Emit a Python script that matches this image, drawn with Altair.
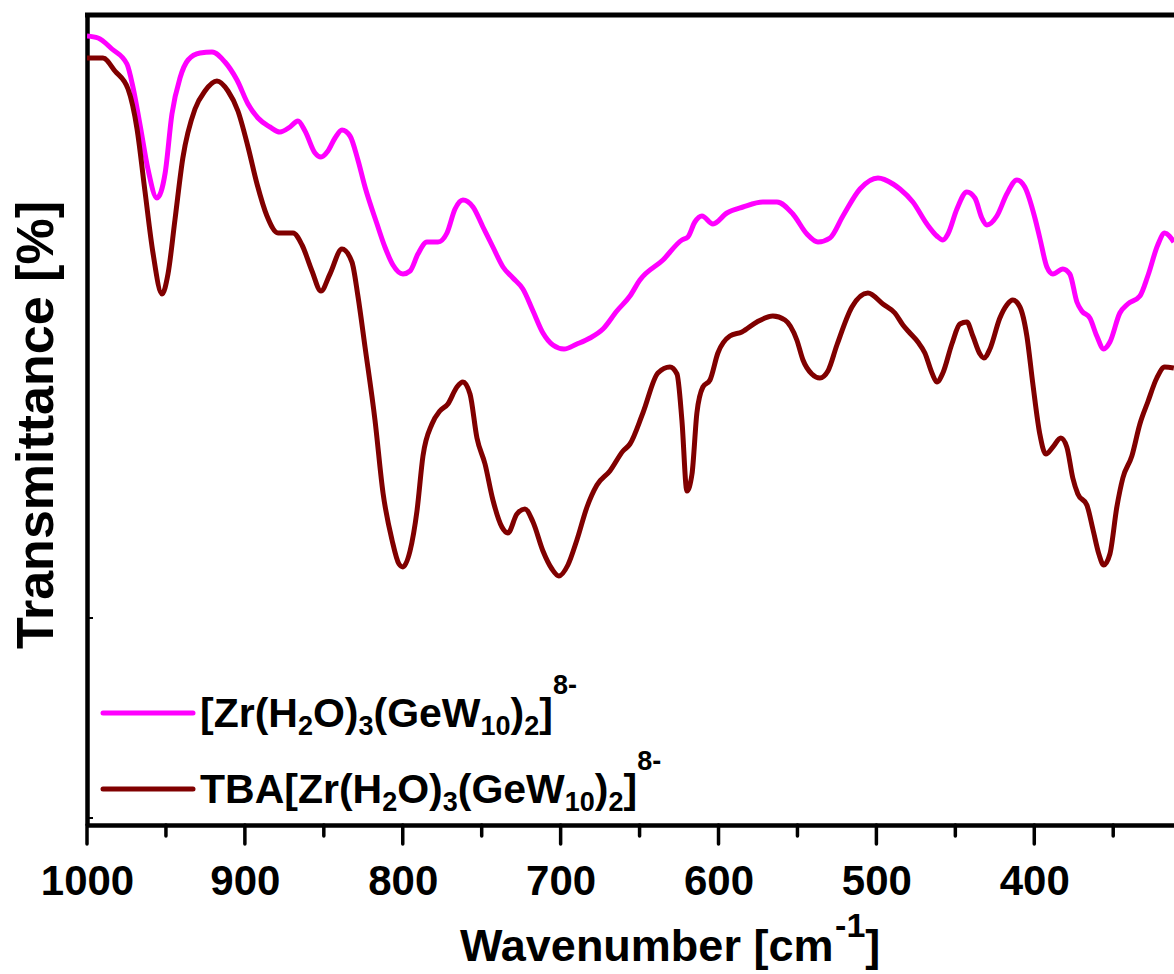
import altair as alt
import pandas as pd

# ---------------- data ----------------
series_names = ["[Zr(H2O)3(GeW10)2]8-", "TBA[Zr(H2O)3(GeW10)2]8-"]
series_colors = ["#FF00FF", "#800000"]

wn_mag = [1000, 993.0, 984.2, 974.7, 970.9, 966.4, 961.4, 955.7, 950.5, 946.2, 941.1, 936.0,
          928.4, 920.8, 912.6, 905.0, 898.0, 891.7, 884.1, 877.8, 871.4, 866.4, 861.9, 855.6,
          851.8, 847.4, 842.9, 838.5, 833.4, 828.4, 823.9, 816.3, 811.3, 806.2, 799.9, 795.4,
          790.4, 784.7, 777.7, 772.0, 766.9, 761.9, 755.5, 749.2, 742.9, 736.5, 730.2, 723.9,
          717.5, 711.2, 704.9, 697.9, 689.7, 681.4, 673.2, 664.4, 656.1, 649.8, 635.2, 623.2,
          619.4, 615.0, 610.5, 603.5, 594.7, 584.5, 571.9, 563.0, 552.9, 544.0, 537.0, 529.4,
          521.2, 510.4, 499.0, 489.5, 485.1, 476.9, 468.0, 461.7, 457.9, 454.7, 449.0, 442.7,
          437.6, 433.2, 430.0, 423.7, 417.4, 411.0, 406.0, 399.6, 396.5, 392.0, 388.2, 381.9,
          377.5, 373.0, 369.9, 364.8, 360.4, 356.0, 352.1, 345.8, 340.8, 333.1, 328.1, 321.8,
          317.4, 311.6]
t_mag = [78.2, 78.0, 76.9, 75.4, 73.1, 69.3, 64.9, 62.0, 64.5, 70.4, 74.0, 75.8,
         76.5, 76.6, 75.6, 73.8, 71.4, 70.0, 69.1, 68.6, 69.1, 69.7, 68.7, 66.5,
         66.1, 66.7, 68.0, 68.8, 68.2, 65.8, 63.1, 59.4, 57.1, 55.3, 54.4, 54.7,
         56.4, 57.6, 57.6, 58.5, 60.9, 61.8, 61.1, 59.1, 57.1, 55.1, 54.0, 52.9,
         50.7, 48.5, 47.3, 46.9, 47.4, 48.0, 48.9, 50.7, 52.2, 53.8, 55.8, 57.8,
         58.1, 59.6, 60.2, 59.4, 60.5, 61.1, 61.6, 61.6, 60.4, 58.4, 57.6, 58.0,
         60.2, 62.9, 64.0, 63.4, 62.9, 61.6, 59.4, 58.2, 57.8, 58.4, 60.9, 62.6,
         62.0, 60.0, 59.3, 60.2, 62.4, 63.8, 63.1, 60.0, 58.0, 55.1, 54.4, 54.9,
         54.4, 51.6, 50.7, 50.0, 48.2, 46.9, 47.6, 50.5, 51.4, 52.2, 54.2, 57.3,
         58.5, 57.6]

wn_tba = [1000, 989.9, 982.3, 974.0, 968.3, 963.3, 958.2, 952.5, 948.7, 944.3, 939.3, 931.6,
          925.3, 917.7, 910.7, 904.4, 898.0, 892.3, 886.0, 879.0, 869.5, 863.8, 857.5, 851.8,
          846.1, 838.5, 832.2, 828.4, 823.9, 817.6, 812.5, 806.8, 802.4, 799.9, 795.4, 791.0,
          787.2, 781.5, 776.5, 771.4, 765.7, 761.9, 757.4, 753.0, 747.9, 742.9, 737.2, 733.4,
          727.7, 722.6, 717.5, 711.2, 705.5, 701.1, 695.4, 689.7, 683.3, 677.0, 668.8, 660.5,
          656.1, 647.9, 638.4, 630.8, 626.3, 623.2, 620.0, 616.8, 613.7, 609.9, 605.4, 600.4,
          592.8, 585.2, 575.7, 565.6, 557.9, 550.4, 546.5, 540.9, 535.8, 530.7, 525.0, 515.5,
          505.4, 495.9, 488.3, 483.2, 478.8, 473.7, 469.3, 464.8, 461.7, 457.9, 452.2, 447.1,
          442.7, 438.9, 434.4, 431.9, 428.1, 421.8, 417.4, 413.6, 409.1, 404.7, 400.9, 396.5,
          392.7, 388.2, 383.2, 379.4, 375.6, 372.4, 366.7, 362.9, 359.1, 356.0, 352.1, 347.7,
          343.9, 338.2, 333.1, 328.1, 322.4, 317.4, 311.6]
t_tba = [76.0, 76.0, 74.7, 72.9, 68.9, 62.7, 56.5, 52.4, 54.4, 59.8, 66.0, 70.9,
         72.7, 73.7, 72.7, 70.7, 67.1, 63.4, 60.2, 58.5, 58.5, 57.3, 54.7, 52.7,
         54.4, 56.9, 55.6, 52.2, 47.1, 39.8, 32.5, 27.8, 25.4, 25.1, 26.7, 30.7,
         36.2, 39.4, 40.7, 41.4, 43.1, 43.6, 42.4, 38.0, 35.4, 31.8, 29.1, 28.5,
         30.4, 30.9, 29.6, 26.7, 24.9, 24.2, 25.3, 27.8, 31.1, 33.3, 34.7, 36.7,
         37.4, 40.5, 44.5, 45.1, 44.4, 39.8, 32.7, 34.4, 40.5, 43.1, 43.8, 46.5,
         48.2, 48.6, 49.6, 50.2, 49.8, 47.8, 45.8, 44.4, 44.0, 44.7, 47.3, 51.1,
         52.5, 51.4, 50.5, 49.3, 48.5, 47.6, 46.5, 44.5, 43.6, 44.5, 47.4, 49.4,
         49.6, 48.2, 46.4, 46.0, 46.9, 50.0, 51.3, 51.8, 51.1, 48.2, 43.4, 38.4,
         36.4, 37.1, 38.0, 37.1, 34.0, 32.4, 31.3, 28.9, 26.4, 25.3, 26.4, 31.1,
         34.0, 36.2, 39.4, 41.6, 44.0, 45.1, 45.0]

x_major_ticks = [1000, 900, 800, 700, 600, 500, 400]
x_minor_ticks = [950, 850, 750, 650, 550, 450, 350]
y_tick_values = [0, 20]
x_domain = [311.5, 1000]
y_domain = [-0.7, 80.3]

x_title_pieces = [("Wavenumber [cm", "n"), ("-1", "sup"), ("]", "n")]
y_title_text = "Transmittance [%]"
legend_pieces = [
    [("[Zr(H", "n"), ("2", "sub"), ("O)", "n"), ("3", "sub"), ("(GeW", "n"), ("10", "sub"),
     (")", "n"), ("2", "sub"), ("]", "n"), ("8-", "sup")],
    [("TBA[Zr(H", "n"), ("2", "sub"), ("O)", "n"), ("3", "sub"), ("(GeW", "n"), ("10", "sub"),
     (")", "n"), ("2", "sub"), ("]", "n"), ("8-", "sup")],
]

# ---------------- layout ----------------
W, H = 1087, 810
FONT = "Liberation Sans"

# Arial/Liberation Sans Bold advance widths (per 1000 em)
ADV = {'[': 333, ']': 333, '(': 333, ')': 333, 'Z': 611, 'r': 389, 'H': 722, 'O': 778,
       'G': 778, 'e': 556, 'W': 944, 'T': 611, 'B': 722, 'A': 722, '-': 333, ' ': 278,
       'a': 556, 'v': 556, 'n': 611, 'u': 611, 'm': 889, 'b': 611, 'c': 556}
for d in "0123456789":
    ADV[d] = 556


def text_width(s, fs):
    return sum(ADV.get(c, 556) for c in s) / 1000.0 * fs


def layout_pieces(pieces, x0, base, fs, sfs, sub_dy, sup_dy):
    rows = []
    x = x0
    for txt, kind in pieces:
        size = fs if kind == "n" else sfs
        y = base + (sub_dy if kind == "sub" else (-sup_dy if kind == "sup" else 0))
        rows.append({"px": x, "py": y, "txt": txt, "fs": size})
        x += text_width(txt, size)
    return rows


rows = []
rows += layout_pieces(legend_pieces[0], 113, 712, 41, 27, 8, 33)
rows += layout_pieces(legend_pieces[1], 113, 788, 41, 27, 8, 33)
rows += layout_pieces(x_title_pieces, 373, 946, 45, 34, 0, 24)
text_df = pd.DataFrame(rows)

lines_df = pd.concat([
    pd.DataFrame({"wn": wn_mag, "T": t_mag, "series": series_names[0]}),
    pd.DataFrame({"wn": wn_tba, "T": t_tba, "series": series_names[1]}),
])

color_scale = alt.Scale(domain=series_names, range=series_colors)
x_scale = alt.Scale(domain=x_domain, reverse=True, nice=False, zero=False)
y_scale = alt.Scale(domain=y_domain, nice=False, zero=False)

x_axis = alt.Axis(
    orient="bottom", values=x_major_ticks, format="d",
    ticks=False, tickSize=0, domainWidth=4.5, domainColor="black",
    labelFont=FONT, labelFontSize=42, labelFontWeight="bold", labelColor="black",
    labelPadding=36, labelFlush=False, labelOverlap=False, grid=False, title=None,
)
y_axis = alt.Axis(labels=False, ticks=False, title=None, grid=False,
                  domainWidth=4.5, domainColor="black")

lines = alt.Chart(lines_df).mark_line(strokeWidth=5, interpolate="monotone", clip=True).encode(
    x=alt.X("wn:Q", scale=x_scale, axis=x_axis),
    y=alt.Y("T:Q", scale=y_scale, axis=y_axis),
    color=alt.Color("series:N", scale=color_scale, legend=None),
    detail="series:N",
)

major_ticks = alt.Chart(pd.DataFrame({"v": x_major_ticks})).mark_rule(
    strokeWidth=3.5, color="black", strokeCap="round"
).encode(x=alt.X("v:Q", scale=x_scale), y=alt.value(H), y2=alt.value(H + 19))

minor_ticks = alt.Chart(pd.DataFrame({"v": x_minor_ticks})).mark_rule(
    strokeWidth=3.5, color="black", strokeCap="round"
).encode(x=alt.X("v:Q", scale=x_scale), y=alt.value(H), y2=alt.value(H + 11))

ytick = alt.Chart(pd.DataFrame({"v": y_tick_values})).mark_rule(strokeWidth=2, color="black").encode(
    y=alt.Y("v:Q", scale=y_scale), x=alt.value(1), x2=alt.value(6)
)

top_border = alt.Chart(pd.DataFrame({"a": [0]})).mark_rule(strokeWidth=5, color="black").encode(
    x=alt.value(-2), x2=alt.value(W), y=alt.value(0)
)

leg1 = alt.Chart(pd.DataFrame({"a": [0]})).mark_rule(strokeWidth=5, strokeCap="round").encode(
    x=alt.value(16), x2=alt.value(106), y=alt.value(698), color=alt.value(series_colors[0])
)
leg2 = alt.Chart(pd.DataFrame({"a": [0]})).mark_rule(strokeWidth=5, strokeCap="round").encode(
    x=alt.value(16), x2=alt.value(106), y=alt.value(774), color=alt.value(series_colors[1])
)

texts = alt.Chart(text_df).mark_text(
    align="left", baseline="alphabetic", font=FONT, fontWeight="bold", color="black"
).encode(
    x=alt.X("px:Q", scale=None, axis=None),
    y=alt.Y("py:Q", scale=None, axis=None),
    text="txt:N",
    size=alt.Size("fs:Q", scale=None, legend=None),
)

ytitle = alt.Chart(pd.DataFrame({"t": [y_title_text]})).mark_text(
    align="center", baseline="alphabetic", angle=270, font=FONT, fontWeight="bold",
    fontSize=52, color="black"
).encode(text="t:N", x=alt.value(-34), y=alt.value(410))

chart = alt.layer(lines, major_ticks, minor_ticks, ytick, top_border, leg1, leg2, texts, ytitle).properties(
    width=W, height=H,
    autosize=alt.AutoSizeParams(type="none"),
    padding={"left": 87, "top": 15, "right": 0, "bottom": 149},
).configure_view(stroke=None)

chart.save("out.html", embed_options={"renderer": "svg", "actions": False})
